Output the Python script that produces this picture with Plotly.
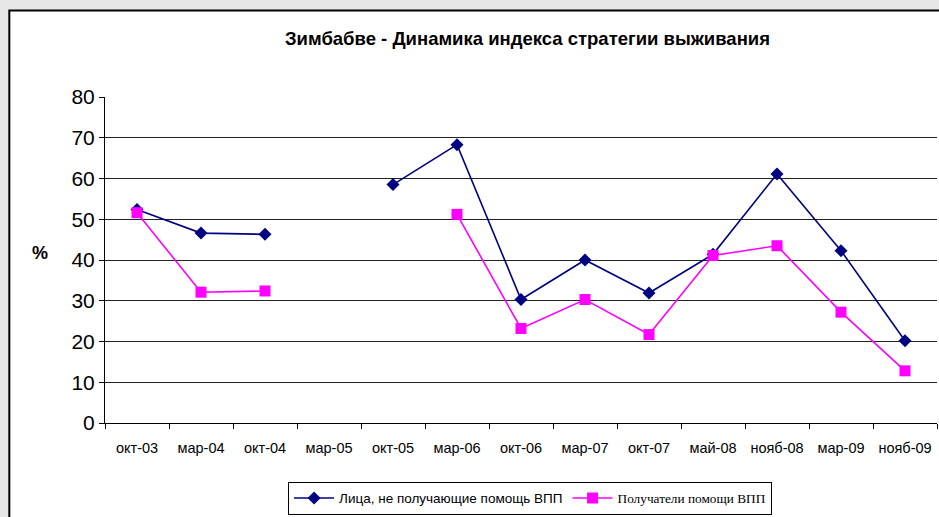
import plotly.graph_objects as go

categories = ["окт-03", "мар-04", "окт-04", "мар-05", "окт-05", "мар-06", "окт-06",
              "мар-07", "окт-07", "май-08", "нояб-08", "мар-09", "нояб-09"]
non_recipients = [52.4, 46.6, 46.3, None, 58.5, 68.3, 30.3, 40.0, 31.9, 41.4, 61.1, 42.3, 20.2]
recipients = [51.6, 32.1, 32.4, None, None, 51.2, 23.2, 30.3, 21.7, 41.1, 43.5, 27.2, 12.8]
y_ticks = [0, 10, 20, 30, 40, 50, 60, 70, 80]

title = "Зимбабве - Динамика индекса стратегии выживания"
name1 = "Лица, не получающие помощь ВПП"
name2 = "Получатели помощи ВПП"

fig = go.Figure()
fig.add_trace(go.Scatter(
    x=categories, y=non_recipients, mode="lines+markers", name=name1,
    line=dict(color="#000080", width=1.6),
    marker=dict(symbol="diamond", size=10, color="#000080"),
    connectgaps=False,
))
fig.add_trace(go.Scatter(
    x=categories, y=recipients, mode="lines+markers",
    name='<span style="font-family:\'Liberation Serif\', serif; font-size:13.3px">' + name2 + '</span>',
    line=dict(color="#FF00FF", width=1.6),
    marker=dict(symbol="square", size=11, color="#FF00FF"),
    connectgaps=False,
))

fig.update_layout(
    width=939, height=517,
    margin=dict(l=105, r=2, t=97, b=92),
    paper_bgcolor="#e6e6e6",
    plot_bgcolor="white",
    font=dict(family="Liberation Sans, Arial, sans-serif", color="black"),
    showlegend=True,
    legend=dict(
        orientation="h", x=0.22, y=-0.18, xanchor="left", yanchor="top",
        bgcolor="white", bordercolor="black", borderwidth=1,
        font=dict(size=13.5, family="Liberation Sans, Arial, sans-serif"),
        itemwidth=40, tracegroupgap=0,
    ),
    shapes=[
        dict(type="rect", xref="paper", yref="paper",
             x0=-0.115, x1=1.2, y0=-0.5, y1=1.265,
             line=dict(color="black", width=2), fillcolor="white", layer="below"),
    ],
    annotations=[
        dict(text="<b>" + title + "</b>", xref="paper", yref="paper",
             x=0.508, y=1.18, xanchor="center", yanchor="middle", showarrow=False,
             font=dict(size=18.5, family="Liberation Sans, Arial, sans-serif")),
        dict(text="<b>%</b>", xref="paper", yref="paper",
             x=-0.078, y=0.52, xanchor="center", yanchor="middle", showarrow=False,
             font=dict(size=18, family="Liberation Sans, Arial, sans-serif")),
    ],
)

fig.update_xaxes(
    type="category", categoryorder="array", categoryarray=categories,
    tickson="boundaries", ticks="outside", ticklen=5, tickcolor="black",
    showline=True, linecolor="black", linewidth=1,
    showgrid=False, tickfont=dict(size=14.5), range=[-0.5, 12.5],
    tickangle=0, ticklabelstandoff=12, automargin=False,
)
fig.update_yaxes(
    range=[0, 80], tickvals=y_ticks, ticks="outside", ticklen=5, tickcolor="black",
    showline=True, linecolor="black", linewidth=1,
    showgrid=True, gridcolor="#222222", gridwidth=1, zeroline=False,
    tickfont=dict(size=21), automargin=False,
)

fig.write_html(
    "out.html",
    config={"displayModeBar": False},
    post_script="document.body.style.margin='0';document.body.style.background='#e6e6e6';",
)
